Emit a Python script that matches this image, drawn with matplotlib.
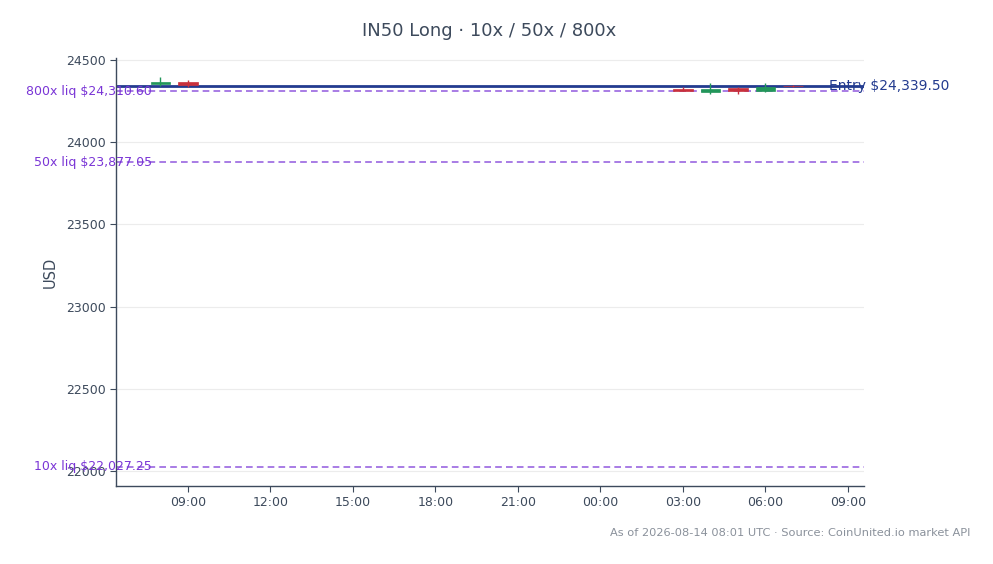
import matplotlib
matplotlib.use("Agg")
import matplotlib.pyplot as plt
import matplotlib.dates as mdates
import matplotlib.transforms as mtransforms
from datetime import datetime

# hourly candles (UTC)
times = ["2026-08-13 08:00", "2026-08-13 09:00", "2026-08-14 03:00", "2026-08-14 04:00",
         "2026-08-14 05:00", "2026-08-14 06:00", "2026-08-14 07:00"]
opens = [24351, 24364, 24321, 24305, 24331, 24313, 24341]
closes = [24364, 24346, 24309, 24326, 24311, 24333, 24339]
highs = [24394, 24376, 24338, 24362, 24336, 24357, 24346]
lows = [24339, 24338, 24308, 24291, 24293, 24305, 24336]

entry_price = 24339.50
liq_labels = ["800x", "50x", "10x"]
liq_prices = [24310.60, 23877.05, 22027.25]

TXT = "#3d4a5c"
GREEN = "#22965a"
RED = "#c8303c"
ENTRY = "#233b8f"
LIQ = "#9a66e0"
LIQ_TXT = "#7a35d6"

fig = plt.figure(figsize=(9.93, 5.64), dpi=100)
ax = fig.add_axes([0.1168, 0.1383, 0.7533, 0.7590])

x = [mdates.date2num(datetime.strptime(t, "%Y-%m-%d %H:%M")) for t in times]
w = 0.72 / 24
for xi, o, c, h, l in zip(x, opens, closes, highs, lows):
    col = GREEN if c >= o else RED
    ax.vlines(xi, l, h, color=col, lw=1, zorder=3)
    ax.bar(xi, max(abs(c - o), 2), bottom=min(o, c), width=w, color=col,
           edgecolor=col, lw=0.5, zorder=3)

ax.axhline(entry_price, color=ENTRY, lw=2, zorder=2)
for lab, p in zip(liq_labels, liq_prices):
    ax.axhline(p, color=LIQ, lw=1.2, ls=(0, (4, 2.5)), zorder=2)

trans = mtransforms.blended_transform_factory(ax.transAxes, ax.transData)
for lab, p in zip(liq_labels, liq_prices):
    ax.text(0.048, p, f"{lab} liq ${p:,.2f}", transform=trans, ha="right", va="center",
            fontsize=9, color=LIQ_TXT, clip_on=False, zorder=4)
ax.text(0.953, entry_price, f"Entry ${entry_price:,.2f}", transform=trans, ha="left",
        va="center", fontsize=10, color=ENTRY, clip_on=False, zorder=4)

ax.set_xlim(mdates.date2num(datetime(2026, 8, 13, 6, 23)),
            mdates.date2num(datetime(2026, 8, 14, 9, 35)))
ax.set_ylim(21909, 24512)
ax.set_yticks([22000, 22500, 23000, 23500, 24000, 24500])
ax.xaxis.set_major_locator(mdates.HourLocator(byhour=range(0, 24, 3)))
ax.xaxis.set_major_formatter(mdates.DateFormatter("%H:%M"))

ax.grid(axis="y", color="#ececec", lw=0.8)
ax.set_axisbelow(True)
for s in ["top", "right"]:
    ax.spines[s].set_visible(False)
for s in ["left", "bottom"]:
    ax.spines[s].set_color(TXT)
    ax.spines[s].set_linewidth(1)
ax.tick_params(colors=TXT, labelsize=9, length=4)
ax.set_ylabel("USD", fontsize=10.5, color=TXT, labelpad=6)

fig.text(0.493, 0.945, "IN50 Long · 10x / 50x / 800x", ha="center", va="center",
         fontsize=13, color=TXT)
fig.text(0.977, 0.055, "As of 2026-08-14 08:01 UTC · Source: CoinUnited.io market API",
         ha="right", va="center", fontsize=8.2, color="#8a919b")

fig.savefig("out.png", dpi=100)
